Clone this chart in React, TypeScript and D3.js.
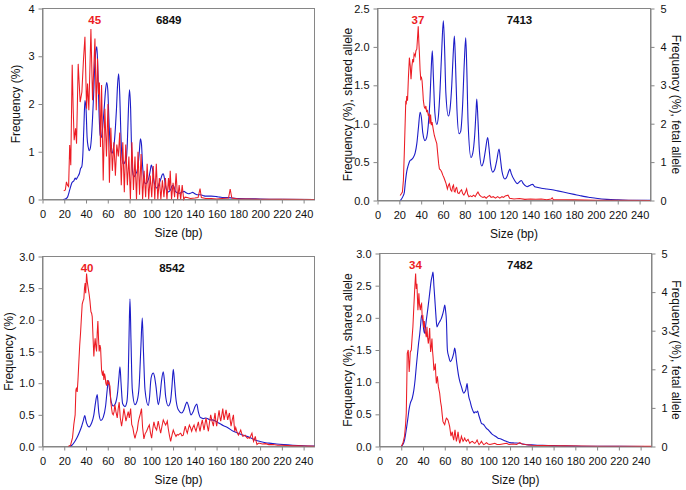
import React, { useEffect, useRef } from 'react';
import * as d3 from 'd3';

type Pt = [number, number];

// x axis ticks (bp) shared by all four panels
const sizeTicks = [0, 20, 40, 60, 80, 100, 120, 140, 160, 180, 200, 220, 240];
const freqTicks4 = [0, 1, 2, 3, 4];
const freqTicks25 = [0, 0.5, 1.0, 1.5, 2.0, 2.5];
const freqTicks3 = [0, 0.5, 1.0, 1.5, 2.0, 2.5, 3.0];
const fetalTicks = [0, 1, 2, 3, 4, 5];

const sampleIds = ['6849', '7413', '8542', '7482'];
const peakSizes = ['45', '37', '40', '34'];

// ---- 6849 ----
const blue6849: Pt[] = [
  [19, 0], [21, 0.01], [23, 0.05], [25, 0.2], [27, 0.35], [29, 0.4], [30, 0.45], [31, 0.42], [32, 0.46], [33, 0.5],
  [34, 0.55], [35, 0.65], [36, 0.68], [37, 0.9], [38, 1.5], [39, 2.07], [40, 1.9], [41, 1.3], [42, 1.1], [43, 1.02],
  [44, 1.08], [45, 1.3], [46, 1.7], [47, 2.2], [48, 2.8], [49, 3.1], [50, 3.2], [51, 2.6], [52, 1.8], [53, 1.35],
  [54, 1.3], [55, 1.45], [56, 1.7], [57, 2.0], [58, 2.3], [59, 2.45], [60, 2.3], [61, 1.7], [62, 1.2], [63, 1.0],
  [64, 0.97], [65, 1.05], [66, 1.2], [67, 1.5], [68, 1.9], [69, 2.4], [70, 2.63], [71, 2.2], [72, 1.4], [73, 0.9],
  [74, 0.75], [75, 0.75], [76, 0.8], [77, 0.85], [78, 1.2], [79, 1.9], [80, 2.3], [81, 1.9], [82, 0.9], [83, 0.55],
  [84, 0.48], [85, 0.5], [86, 0.55], [87, 0.6], [88, 0.75], [89, 1.0], [90, 1.27], [91, 1.15], [92, 0.7], [93, 0.45],
  [94, 0.35], [95, 0.33], [96, 0.35], [97, 0.4], [98, 0.48], [99, 0.6], [100, 0.72], [101, 0.65], [102, 0.45], [103, 0.32],
  [104, 0.26], [105, 0.24], [106, 0.26], [107, 0.32], [108, 0.38], [109, 0.45], [110, 0.52], [111, 0.54], [112, 0.45], [113, 0.3],
  [114, 0.2], [115, 0.17], [116, 0.16], [117, 0.18], [118, 0.22], [119, 0.28], [120, 0.3], [121, 0.26], [122, 0.18], [124, 0.14],
  [126, 0.13], [128, 0.15], [130, 0.17], [132, 0.14], [134, 0.12], [136, 0.13], [138, 0.15], [140, 0.12], [142, 0.1], [145, 0.1],
  [148, 0.08], [150, 0.07], [155, 0.07], [160, 0.06], [163, 0.05], [166, 0.04], [170, 0.04], [175, 0.03], [180, 0.02], [190, 0.015],
  [200, 0.01], [210, 0.005], [220, 0.003], [250, 0],
];
const red6849: Pt[] = [
  [19.5, 0.18], [21, 0.2], [22, 0.37], [23, 0.3], [24, 0.27], [25, 1.14], [26, 0.72], [27.3, 2.82], [28.2, 1.9], [29.1, 1.24],
  [30.4, 1.49], [31.3, 1.17], [32.8, 2.84], [34.6, 2.04], [36.2, 2.25], [37.6, 2.9], [39, 3.41], [40.5, 1.9], [41.4, 2.43], [42.6, 1.87],
  [44.5, 3.57], [46, 2.08], [48.2, 3.37], [49.4, 1.87], [50.6, 2.95], [51.5, 2.2], [52.3, 2.45], [53.3, 1.1], [54.3, 2.4], [55.8, 0.4],
  [57.3, 1.9], [58.8, 0.9], [60.2, 2.0], [61.5, 0.35], [62.8, 1.5], [64.2, 0.6], [65.6, 1.2], [67, 0.5], [68.3, 1.15], [69.7, 0.9],
  [71, 1.4], [72.4, 0.3], [73.8, 1.2], [75.2, 0.15], [76.5, 1.15], [78, 0.3], [79.4, 0.9], [80.8, 0.0], [82.2, 1.2], [83.6, 0.2],
  [85, 0.9], [86.4, 0.0], [87.8, 1.0], [89.2, 0.1], [90.6, 0.95], [92, 0.0], [93.4, 0.6], [94.8, 0.05], [96.2, 0.75], [97.6, 0.0],
  [99, 0.5], [100.4, 0.05], [101.8, 0.7], [103.2, 0.0], [104.6, 0.75], [106, 0.0], [107.4, 0.45], [108.8, 0.0], [110.2, 0.4], [111.6, 0.05],
  [113, 0.45], [114.4, 0.0], [115.8, 0.45], [116.6, 0.2], [117.4, 0.6], [118.6, 0.0], [120, 0.35], [121.4, 0.05], [122.8, 0.55], [124.2, 0.0],
  [125.6, 0.3], [127, 0.0], [128.4, 0.3], [129.8, 0.0], [131, 0.05], [133, 0.04], [136, 0.02], [140, 0.03], [143, 0.04], [144.8, 0.23],
  [146, 0.04], [150, 0.02], [155, 0.02], [160, 0.01], [165, 0.02], [171, 0.03], [172.5, 0.22], [174, 0.03], [180, 0.01], [190, 0.01],
  [200, 0.005], [220, 0.003], [250, 0],
];

// ---- 7413 ----
const blue7413: Pt[] = [
  [20.7, 0], [22, 0.02], [23.5, 0.06], [24.6, 0.11], [25.6, 0.25], [26.8, 0.38], [28, 0.45], [29.8, 0.52], [31, 0.53], [32.8, 0.56],
  [34.5, 0.62], [36, 0.74], [37.5, 0.95], [39, 1.15], [40.2, 1.08], [41.5, 0.88], [43.5, 0.78], [45, 0.82], [46.5, 0.98], [48, 1.3],
  [49.3, 1.75], [50.2, 1.95], [51.2, 1.6], [52.5, 1.15], [54.3, 0.99], [55.8, 1.1], [57.3, 1.45], [58.8, 1.95], [60.3, 2.34], [61.4, 2.0],
  [62.6, 1.4], [64.9, 1.1], [66.5, 1.2], [68, 1.5], [69.3, 1.9], [70.4, 2.14], [71.4, 1.8], [72.7, 1.2], [74.7, 0.87], [76.2, 0.9],
  [77.8, 1.2], [79.5, 1.8], [80.8, 2.12], [81.8, 1.7], [83, 1.0], [85.6, 0.56], [87.3, 0.62], [89, 0.85], [90.2, 1.15], [90.9, 1.32],
  [92, 1.05], [93.3, 0.65], [95.4, 0.45], [97, 0.5], [98.8, 0.65], [100.9, 0.82], [102, 0.7], [103.5, 0.48], [105.5, 0.37], [107.2, 0.4],
  [109.2, 0.52], [111.3, 0.67], [112.5, 0.55], [114, 0.38], [116.7, 0.28], [118.5, 0.31], [120.2, 0.38], [121.2, 0.41], [122.5, 0.35], [125.6, 0.26],
  [128, 0.22], [130.5, 0.25], [131.7, 0.26], [133.5, 0.22], [137, 0.18], [140, 0.2], [142, 0.21], [144, 0.18], [147, 0.17], [150, 0.16],
  [155, 0.15], [160, 0.14], [165, 0.125], [170, 0.11], [175, 0.095], [180, 0.08], [185, 0.065], [190, 0.05], [195, 0.04], [200, 0.03],
  [210, 0.015], [220, 0.008], [230, 0.004], [250, 0.001],
];
const red7413: Pt[] = [
  [20.7, 0.065], [22, 0.09], [22.8, 0.11], [23.7, 0.26], [24.5, 0.6], [25.3, 1.0], [25.9, 1.3], [26.3, 1.25], [26.8, 1.36], [27.5, 1.3],
  [28.3, 1.6], [29.2, 1.86], [30, 1.75], [30.7, 1.58], [31.5, 1.75], [32.3, 1.84], [33, 1.8], [33.5, 1.91], [34.5, 1.88], [35.2, 1.95],
  [36, 1.97], [36.8, 2.15], [37.3, 2.27], [37.9, 2.05], [38.4, 1.91], [39, 1.7], [39.6, 1.58], [40.3, 1.6], [40.8, 1.56], [41.5, 1.42],
  [42, 1.3], [42.8, 1.22], [43.6, 1.2], [44.3, 1.23], [45, 1.15], [45.6, 1.18], [46.6, 1.1], [47.3, 1.13], [48, 1.0], [48.6, 1.12],
  [49.3, 0.98], [50, 1.02], [51, 0.93], [52, 0.85], [53, 0.8], [54.3, 0.74], [55.2, 0.6], [56, 0.48], [56.7, 0.41], [57.7, 0.4],
  [58.8, 0.37], [59.8, 0.33], [60.8, 0.3], [61.8, 0.26], [62.8, 0.22], [64, 0.15], [65, 0.2], [65.8, 0.22], [67, 0.14], [68, 0.12],
  [68.8, 0.18], [69.6, 0.2], [70.3, 0.12], [71, 0.11], [71.8, 0.16], [72.5, 0.17], [73.5, 0.1], [74.7, 0.09], [75.8, 0.12], [77, 0.14],
  [78, 0.09], [79.1, 0.07], [80.3, 0.1], [81.6, 0.15], [82.6, 0.08], [83.7, 0.05], [85, 0.06], [86.5, 0.05], [88, 0.07], [89.5, 0.05],
  [91, 0.09], [92, 0.11], [93.5, 0.07], [95, 0.05], [96.6, 0.04], [98, 0.05], [99.5, 0.03], [101, 0.05], [102.7, 0.065], [104, 0.04],
  [106, 0.05], [108, 0.03], [110, 0.05], [112, 0.03], [114, 0.05], [115.5, 0.04], [117, 0.06], [119.5, 0.07], [121, 0.03], [125, 0.02],
  [130, 0.025], [135, 0.015], [140, 0.02], [145, 0.015], [150, 0.02], [155, 0.01], [159, 0.02], [160, 0.035], [161, 0.01], [170, 0.01],
  [180, 0.008], [190, 0.005], [200, 0.003], [220, 0.002], [250, 0],
];

// ---- 8542 ----
const blue8542: Pt[] = [
  [25, 0], [27, 0.02], [29.7, 0.08], [32, 0.15], [34.3, 0.24], [36, 0.32], [37.4, 0.4], [38.9, 0.49], [39.8, 0.42], [40.5, 0.37],
  [42.9, 0.31], [45.1, 0.37], [47.2, 0.5], [48.7, 0.69], [50.3, 0.82], [51.2, 0.65], [51.8, 0.53], [53.7, 0.41], [55.8, 0.46], [58, 0.64],
  [59.5, 0.9], [60.5, 1.04], [61.5, 0.92], [63, 0.72], [65, 0.64], [67, 0.68], [69, 0.85], [70.3, 1.1], [71.2, 1.26], [72.2, 1.0],
  [73.6, 0.68], [75.8, 0.63], [77.5, 0.7], [78.8, 1.1], [79.6, 1.8], [80.4, 2.33], [81.3, 1.7], [82.5, 0.91], [85, 0.66], [87, 0.72],
  [88.8, 0.95], [90.5, 1.6], [91.7, 2.03], [92.8, 1.5], [94.2, 0.9], [97.2, 0.65], [98.5, 0.8], [99.4, 1.02], [100.5, 1.13], [101.8, 1.16],
  [103, 1.1], [104.3, 0.95], [106.4, 0.66], [108, 0.8], [109.5, 1.05], [111, 1.18], [112, 1.05], [113.2, 0.79], [115.6, 0.64], [117.5, 0.7],
  [119, 0.95], [120.2, 1.22], [121.2, 1.05], [122.4, 0.79], [124.8, 0.58], [127.9, 0.53], [130, 0.58], [131.5, 0.66], [132.8, 0.7], [134.5, 0.62],
  [136.5, 0.5], [138.5, 0.55], [140.2, 0.63], [141.8, 0.67], [143.2, 0.55], [145, 0.46], [146.3, 0.45], [148, 0.44], [150, 0.45], [152, 0.44],
  [154, 0.42], [156, 0.42], [158, 0.41], [160, 0.39], [163.2, 0.36], [166, 0.33], [170, 0.3], [175.4, 0.24], [180, 0.21], [184, 0.18],
  [187.8, 0.16], [192, 0.13], [196, 0.1], [200, 0.08], [205, 0.06], [210, 0.05], [215, 0.04], [221.5, 0.03], [230, 0.02], [240, 0.012],
  [250, 0.008],
];
const red8542: Pt[] = [
  [23.6, 0], [25.8, 0.02], [27.6, 0.14], [28.8, 0.35], [30, 0.5], [30.7, 0.89], [31.3, 0.93], [31.9, 0.86], [32.6, 1.05], [33.4, 1.33],
  [34.2, 1.6], [35, 1.8], [35.8, 2.05], [36.5, 2.25], [37.3, 2.3], [38, 2.33], [38.6, 2.5], [39.2, 2.58], [39.7, 2.42], [40.5, 2.73],
  [41.2, 2.6], [42, 2.5], [42.9, 2.4], [43.6, 2.3], [44.5, 2.13], [45.2, 2.1], [45.7, 2.05], [46.5, 1.7], [47.2, 1.42], [47.8, 1.6],
  [48.4, 1.71], [49, 1.58], [49.7, 1.5], [50.3, 1.8], [50.9, 1.98], [51.5, 1.7], [52.1, 1.5], [52.8, 1.6], [53.4, 1.55], [54.3, 1.2],
  [55.2, 1.12], [55.8, 1.2], [56.4, 1.05], [57, 1.15], [57.6, 1.1], [58.2, 1.0], [58.9, 0.96], [59.6, 1.05], [60.3, 0.98], [61, 1.02],
  [62, 0.95], [62.8, 0.7], [63.5, 0.6], [64.2, 0.52], [65, 0.5], [65.8, 0.55], [66.5, 0.66], [67.5, 0.55], [68.7, 0.45], [69.6, 0.6],
  [70.5, 0.7], [71.5, 0.45], [72.7, 0.32], [73.8, 0.45], [74.8, 0.6], [75.8, 0.5], [76.7, 0.4], [77.8, 0.48], [78.8, 0.55], [79.8, 0.45],
  [81, 0.6], [82, 0.35], [83, 0.3], [84, 0.2], [85, 0.13], [86, 0.2], [87.1, 0.26], [88, 0.38], [88.9, 0.45], [90, 0.52],
  [91, 0.6], [92, 0.3], [93.2, 0.12], [94.3, 0.2], [95.7, 0.24], [97, 0.3], [98.2, 0.34], [99.2, 0.22], [100.3, 0.13], [101.4, 0.28],
  [102.4, 0.39], [103.6, 0.3], [104.9, 0.26], [105.6, 0.33], [106.4, 0.4], [107.5, 0.3], [108.6, 0.21], [109.8, 0.32], [111, 0.42], [112, 0.38],
  [113.2, 0.34], [114, 0.37], [114.7, 0.4], [115.6, 0.28], [116.6, 0.18], [117.8, 0.08], [119, 0.18], [120.2, 0.26], [121.5, 0.2], [122.7, 0.16],
  [123.8, 0.19], [124.8, 0.18], [126, 0.2], [127, 0.21], [128.2, 0.17], [129.4, 0.18], [130.3, 0.26], [131.2, 0.32], [132.2, 0.25], [133.1, 0.21],
  [134, 0.28], [135, 0.34], [136, 0.3], [137.1, 0.24], [138.2, 0.3], [139.3, 0.34], [140.2, 0.28], [141.1, 0.24], [142.2, 0.32], [143.3, 0.39],
  [144, 0.3], [144.8, 0.24], [145.8, 0.34], [146.9, 0.42], [147.7, 0.33], [148.5, 0.26], [149.4, 0.36], [150.3, 0.45], [151.4, 0.33], [152.5, 0.24],
  [153.5, 0.38], [154.6, 0.5], [155.8, 0.4], [157.1, 0.32], [157.8, 0.44], [158.6, 0.53], [159.3, 0.4], [160.1, 0.32], [161.2, 0.45], [162.3, 0.57],
  [163, 0.47], [163.8, 0.4], [164.8, 0.5], [165.7, 0.6], [166.3, 0.5], [166.9, 0.42], [167.8, 0.5], [168.7, 0.58], [169.5, 0.5], [170.2, 0.42],
  [171, 0.48], [171.8, 0.53], [172.5, 0.42], [173.3, 0.32], [174.4, 0.42], [175.5, 0.5], [176.1, 0.35], [176.7, 0.24], [177.6, 0.3], [178.6, 0.24],
  [179.4, 0.2], [180.1, 0.18], [181.2, 0.22], [182.2, 0.26], [183.2, 0.2], [184.1, 0.16], [185.2, 0.17], [186.2, 0.18], [187.3, 0.15], [188.4, 0.13],
  [189.3, 0.14], [190.2, 0.13], [191.4, 0.17], [192.5, 0.21], [193.2, 0.14], [194, 0.08], [194.8, 0.12], [195.6, 0.16], [196.4, 0.08], [197.1, 0.03],
  [198.3, 0.05], [199.5, 0.05], [202, 0.04], [205, 0.045], [208, 0.03], [212, 0.03], [216, 0.02], [220, 0.02], [225, 0.015], [230, 0.01],
  [235, 0.012], [240, 0.008], [245, 0.006], [250, 0.005],
];

// ---- 7482 ----
const blue7482: Pt[] = [
  [20, 0], [21.5, 0.03], [23, 0.1], [24.6, 0.26], [26.1, 0.44], [27.2, 0.58], [28.3, 0.67], [30.1, 0.75], [31.6, 0.88], [32.8, 1.05],
  [33.8, 1.24], [35, 1.45], [35.9, 1.6], [37, 1.75], [37.8, 1.89], [38.7, 2.04], [39.9, 1.94], [40.6, 1.82], [41.5, 1.76], [42.2, 1.85],
  [43, 1.96], [44.5, 2.15], [46.1, 2.38], [47.6, 2.59], [48.5, 2.66], [49.2, 2.71], [50, 2.5], [50.7, 2.33], [51.8, 2.05], [52.8, 1.86],
  [54, 1.9], [55.3, 1.94], [56.6, 1.98], [57.8, 2.04], [59, 2.12], [60, 2.2], [60.8, 2.1], [61.5, 1.96], [62.4, 1.5], [63.6, 1.4],
  [65.1, 1.32], [66.9, 1.37], [68.2, 1.45], [69.1, 1.53], [70, 1.45], [70.7, 1.34], [71.8, 1.2], [72.8, 1.09], [74, 1.0], [75.3, 0.93],
  [77.4, 0.83], [78.5, 0.85], [79.3, 0.88], [80.5, 0.98], [81.2, 0.88], [82, 0.78], [83.3, 0.7], [84.5, 0.62], [86, 0.55], [86.9, 0.52],
  [88, 0.54], [89.1, 0.53], [90.2, 0.55], [91.2, 0.49], [92.5, 0.42], [93.7, 0.36], [95.8, 0.34], [97, 0.31], [98.3, 0.28], [100, 0.26],
  [101.4, 0.23], [103, 0.2], [104.4, 0.18], [106.5, 0.16], [109, 0.13], [111, 0.12], [113.6, 0.1], [116.5, 0.08], [119.8, 0.06], [124, 0.055],
  [129, 0.05], [132, 0.04], [136.7, 0.026], [140, 0.025], [145, 0.02], [150, 0.018], [160, 0.014], [170, 0.01], [180, 0.006], [190, 0.004],
  [200, 0.003], [220, 0.002], [250, 0],
];
const red7482: Pt[] = [
  [20, 0], [21.5, 0.05], [23, 0.16], [24, 0.35], [24.6, 0.52], [25.1, 1.0], [25.5, 1.45], [26.4, 1.5], [27.3, 1.16], [27.8, 1.3],
  [28.3, 1.47], [29.2, 1.5], [30, 1.7], [30.7, 1.86], [31.5, 2.15], [32.3, 2.43], [33.2, 2.69], [33.8, 2.45], [34.4, 2.53], [34.9, 2.3],
  [35.3, 2.12], [35.8, 2.25], [36.2, 2.38], [36.8, 2.2], [37.5, 2.12], [38.1, 2.2], [38.7, 2.22], [39.3, 2.0], [39.9, 2.02], [40.6, 1.85],
  [41.2, 1.95], [41.8, 1.8], [42.4, 1.76], [43, 1.7], [43.6, 1.86], [44.2, 1.7], [44.9, 1.6], [45.5, 1.7], [46.1, 1.84], [46.6, 1.6],
  [47, 1.47], [47.6, 1.55], [48.2, 1.68], [48.7, 1.5], [49.2, 1.4], [50, 1.19], [50.6, 1.2], [51.3, 1.29], [51.8, 1.1], [52.3, 0.98],
  [53.2, 1.09], [54.1, 0.93], [55.3, 0.83], [56.1, 0.7], [56.9, 0.62], [57.6, 0.5], [58.3, 0.39], [59.1, 0.36], [59.9, 0.34], [60.7, 0.4],
  [61.5, 0.44], [62.2, 0.43], [63, 0.41], [63.8, 0.36], [64.5, 0.31], [65.7, 0.16], [66.3, 0.2], [66.9, 0.23], [67.5, 0.15], [68.2, 0.1],
  [68.8, 0.18], [69.4, 0.26], [70.1, 0.15], [70.7, 0.08], [71.5, 0.15], [72.2, 0.23], [73, 0.12], [73.7, 0.05], [74.5, 0.1], [75.3, 0.16],
  [76, 0.12], [76.8, 0.08], [77.5, 0.1], [78.3, 0.13], [79, 0.1], [79.9, 0.08], [80.6, 0.1], [81.4, 0.11], [82.2, 0.08], [83, 0.05],
  [84.2, 0.07], [85.4, 0.08], [86.5, 0.06], [87.6, 0.05], [88.7, 0.07], [89.7, 0.1], [90.6, 0.06], [91.5, 0.03], [92.6, 0.05], [93.7, 0.08],
  [94.8, 0.05], [95.8, 0.03], [97, 0.04], [98.3, 0.06], [99.8, 0.04], [101.4, 0.03], [103.5, 0.04], [106, 0.05], [108, 0.03], [110.6, 0.03],
  [113, 0.04], [116.7, 0.05], [119, 0.03], [122.9, 0.04], [126, 0.03], [129, 0.06], [131, 0.04], [133.6, 0.03], [140, 0.02], [150, 0.015],
  [160, 0.012], [170, 0.01], [185, 0.007], [200, 0.005], [225, 0.003], [250, 0.002],
];

const FONT = '"Liberation Sans", Arial, Helvetica, sans-serif';
const AXIS = '#868686';
const BLUE = '#1c1cc8';
const RED = '#ec1c24';

interface Panel {
  blue: Pt[];
  red: Pt[];
  id: string;
  peak: string;
  peakX: number;
  idX: number;
  yMax: number;
  yTicks: number[];
  yFmt: string;
  yTitle: string;
  right: boolean;
  box: { l: number; r: number; t: number; b: number };
  yTitleX: number;
}

const panels: Panel[] = [
  { blue: blue6849, red: red6849, id: sampleIds[0], peak: peakSizes[0], peakX: 48, idX: 116, yMax: 4, yTicks: freqTicks4, yFmt: 'd',
    yTitle: 'Frequency (%)', right: false, box: { l: 42.5, r: 314.5, t: 8.5, b: 199.5 }, yTitleX: 16 },
  { blue: blue7413, red: red7413, id: sampleIds[1], peak: peakSizes[1], peakX: 37, idX: 130, yMax: 2.5, yTicks: freqTicks25, yFmt: '.1f',
    yTitle: 'Frequency (%), shared allele', right: true, box: { l: 377.5, r: 650.5, t: 8.5, b: 200.5 }, yTitleX: 348 },
  { blue: blue8542, red: red8542, id: sampleIds[2], peak: peakSizes[2], peakX: 41, idX: 119, yMax: 3, yTicks: freqTicks3, yFmt: '.1f',
    yTitle: 'Frequency (%)', right: false, box: { l: 42.5, r: 314.5, t: 256.5, b: 446.5 }, yTitleX: 8.5 },
  { blue: blue7482, red: red7482, id: sampleIds[3], peak: peakSizes[3], peakX: 33, idX: 129, yMax: 3, yTicks: freqTicks3, yFmt: '.1f',
    yTitle: 'Frequency (%), shared allele', right: true, box: { l: 379.5, r: 651.5, t: 253.5, b: 446.5 }, yTitleX: 348 },
];

export default function App() {
  const svgRef = useRef<SVGSVGElement>(null);

  useEffect(() => {
    if (!svgRef.current) return;
    const svg = d3.select(svgRef.current);
    svg.selectAll('*').remove();

    panels.forEach(p => {
      const { l, r, t, b } = p.box;
      const x = d3.scaleLinear().domain([0, 250]).range([l, r]);
      const y = d3.scaleLinear().domain([0, p.yMax]).range([b, t]);
      const y2 = d3.scaleLinear().domain([0, 5]).range([b, t]);
      const g = svg.append('g');

      // plot area border
      g.append('rect')
        .attr('x', l).attr('y', t).attr('width', r - l).attr('height', b - t)
        .attr('fill', 'none').attr('stroke', AXIS).attr('stroke-width', 1);

      const line = d3.line<Pt>().x(d => x(d[0])).y(d => y(d[1]));
      g.append('path').datum(p.blue)
        .attr('d', line.curve(d3.curveMonotoneX))
        .attr('fill', 'none').attr('stroke', BLUE).attr('stroke-width', 1.1);
      g.append('path').datum(p.red)
        .attr('d', line.curve(d3.curveLinear))
        .attr('fill', 'none').attr('stroke', RED).attr('stroke-width', 1.05);

      const styleAxis = (sel: d3.Selection<SVGGElement, unknown, null, undefined>) => {
        sel.attr('font-family', FONT).attr('font-size', 11);
        sel.selectAll('path,line').attr('stroke', AXIS);
        sel.selectAll('text').attr('fill', '#111');
      };

      g.append('g')
        .attr('transform', `translate(0,${b})`)
        .call(d3.axisBottom(x).tickValues(sizeTicks).tickFormat(d3.format('d')).tickSize(4).tickSizeOuter(0).tickPadding(7))
        .call(styleAxis);

      g.append('g')
        .attr('transform', `translate(${l},0)`)
        .call(d3.axisLeft(y).tickValues(p.yTicks).tickFormat(d3.format(p.yFmt)).tickSize(4).tickSizeOuter(0).tickPadding(4))
        .call(styleAxis);

      if (p.right) {
        g.append('g')
          .attr('transform', `translate(${r},0)`)
          .call(d3.axisRight(y2).tickValues(fetalTicks).tickFormat(d3.format('d')).tickSize(4).tickSizeOuter(0).tickPadding(6))
          .call(styleAxis);
        g.append('text')
          .attr('transform', `translate(676,${(t + b) / 2}) rotate(90)`)
          .attr('text-anchor', 'middle').attr('dy', '0.35em')
          .attr('font-family', FONT).attr('font-size', 12).attr('fill', '#111')
          .text('Frequency (%), fetal allele');
      }

      g.append('text')
        .attr('transform', `translate(${p.yTitleX},${(t + b) / 2}) rotate(-90)`)
        .attr('text-anchor', 'middle').attr('dy', '0.35em')
        .attr('font-family', FONT).attr('font-size', 12).attr('fill', '#111')
        .text(p.yTitle);

      g.append('text')
        .attr('x', (l + r) / 2).attr('y', b + 37)
        .attr('text-anchor', 'middle')
        .attr('font-family', FONT).attr('font-size', 12).attr('fill', '#111')
        .text('Size (bp)');

      g.append('text')
        .attr('x', x(p.peakX)).attr('y', t + 15)
        .attr('text-anchor', 'middle')
        .attr('font-family', FONT).attr('font-size', 11.5).attr('font-weight', 'bold').attr('fill', RED)
        .text(p.peak);

      g.append('text')
        .attr('x', x(p.idX)).attr('y', t + 15)
        .attr('text-anchor', 'middle')
        .attr('font-family', FONT).attr('font-size', 11.5).attr('font-weight', 'bold').attr('fill', '#111')
        .text(p.id);
    });
  }, []);

  return (
    <svg ref={svgRef} width={686} height={490}
      style={{ position: 'absolute', left: 0, top: 0, background: '#fff' }} />
  );
}
